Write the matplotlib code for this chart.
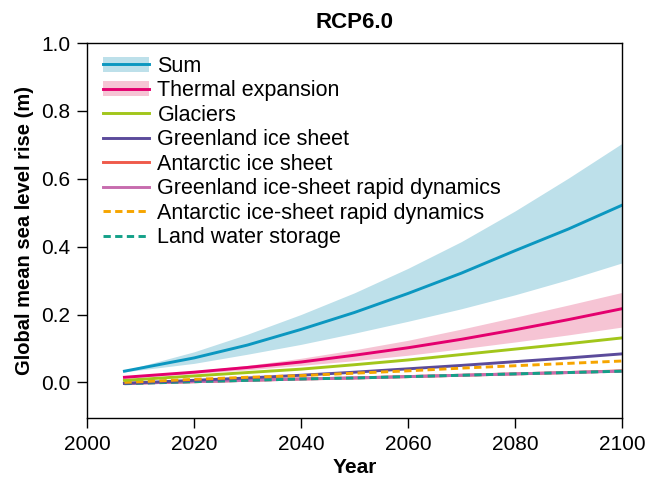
import numpy as np
import matplotlib
matplotlib.use("Agg")
import matplotlib.pyplot as plt
from matplotlib.patches import Patch
from matplotlib.lines import Line2D

plt.rcParams['font.family'] = ['Liberation Sans', 'DejaVu Sans']

# data (m)
years = [2007, 2020, 2030, 2040, 2050, 2060, 2070, 2080, 2090, 2100]
sum_mid = [0.033, 0.072, 0.11, 0.156, 0.206, 0.262, 0.322, 0.388, 0.452, 0.522]
sum_hi = [0.035, 0.09, 0.142, 0.2, 0.264, 0.336, 0.415, 0.505, 0.602, 0.704]
sum_lo = [0.031, 0.056, 0.083, 0.112, 0.145, 0.18, 0.217, 0.258, 0.303, 0.352]
thermal_mid = [0.015, 0.03, 0.044, 0.06, 0.08, 0.102, 0.127, 0.155, 0.185, 0.217]
thermal_hi = [0.017, 0.034, 0.05, 0.071, 0.096, 0.124, 0.157, 0.192, 0.228, 0.265]
thermal_lo = [0.013, 0.026, 0.037, 0.05, 0.064, 0.08, 0.099, 0.119, 0.14, 0.163]
glaciers = [0.006, 0.019, 0.029, 0.039, 0.052, 0.066, 0.082, 0.098, 0.114, 0.131]
greenland = [-0.003, 0.006, 0.013, 0.021, 0.03, 0.04, 0.05, 0.061, 0.072, 0.084]
antarctic = [-0.003, 0.002, 0.006, 0.01, 0.013, 0.017, 0.021, 0.025, 0.029, 0.034]
green_rapid = [-0.003, 0.002, 0.006, 0.01, 0.013, 0.017, 0.021, 0.025, 0.029, 0.033]
ant_rapid = [0.0, 0.009, 0.015, 0.02, 0.027, 0.034, 0.042, 0.049, 0.056, 0.063]
land_water = [-0.004, 0.002, 0.006, 0.01, 0.013, 0.017, 0.021, 0.025, 0.029, 0.033]

c_sum, c_sum_band = '#0b97c0', '#bde0ea'
c_th, c_th_band = '#e4006e', '#f6c4d4'
dash = (0, (2.5, 1.5))

fig = plt.figure(figsize=(6.56, 4.78), dpi=100)
ax = fig.add_axes([0.1326, 0.1255, 0.8155, 0.7845])

lw = 2.1
ax.fill_between(years, sum_lo, sum_hi, color=c_sum_band, lw=0)
ax.fill_between(years, thermal_lo, thermal_hi, color=c_th_band, lw=0)
ax.plot(years, antarctic, color='#ef5a4b', lw=lw)
ax.plot(years, green_rapid, color='#c76cae', lw=lw)
ax.plot(years, land_water, color='#13a088', lw=lw, ls=dash)
ax.plot(years, greenland, color='#5b4b9b', lw=lw)
ax.plot(years, ant_rapid, color='#f6a500', lw=lw, ls=dash)
ax.plot(years, glaciers, color='#a2c61b', lw=lw)
ax.plot(years, thermal_mid, color=c_th, lw=lw)
ax.plot(years, sum_mid, color=c_sum, lw=lw)

handles = [
    (Patch(color=c_sum_band, lw=0), Line2D([], [], color=c_sum, lw=lw)),
    (Patch(color=c_th_band, lw=0), Line2D([], [], color=c_th, lw=lw)),
    Line2D([], [], color='#a2c61b', lw=lw),
    Line2D([], [], color='#5b4b9b', lw=lw),
    Line2D([], [], color='#ef5a4b', lw=lw),
    Line2D([], [], color='#c76cae', lw=lw),
    Line2D([], [], color='#f6a500', lw=lw, ls=dash),
    Line2D([], [], color='#13a088', lw=lw, ls=dash),
]
labels = ['Sum', 'Thermal expansion', 'Glaciers', 'Greenland ice sheet',
          'Antarctic ice sheet', 'Greenland ice-sheet rapid dynamics',
          'Antarctic ice-sheet rapid dynamics', 'Land water storage']
ax.legend(handles, labels, loc='upper left', frameon=False, fontsize=15.5,
          handlelength=2.15, handletextpad=0.4, labelspacing=0.16,
          borderpad=0.3, borderaxespad=0.3, bbox_to_anchor=(0.005, 1.0))

ax.set_xlim(2000, 2100)
ax.set_ylim(-0.105, 1.0)
ax.set_xticks(range(2000, 2101, 20))
ax.set_yticks(np.arange(0, 1.01, 0.2))
ax.yaxis.set_major_formatter(matplotlib.ticker.FormatStrFormatter('%.1f'))
ax.tick_params(labelsize=15, length=7, width=1, direction='out', pad=5)
for s in ax.spines.values():
    s.set_linewidth(1)

ax.set_title('RCP6.0', fontsize=16, fontweight='bold', pad=11)
ax.set_xlabel('Year', fontsize=15, fontweight='bold', labelpad=3)
ax.set_ylabel('Global mean sea level rise (m)', fontsize=14.5, fontweight='bold', labelpad=5)

fig.savefig('out.png', dpi=100)
